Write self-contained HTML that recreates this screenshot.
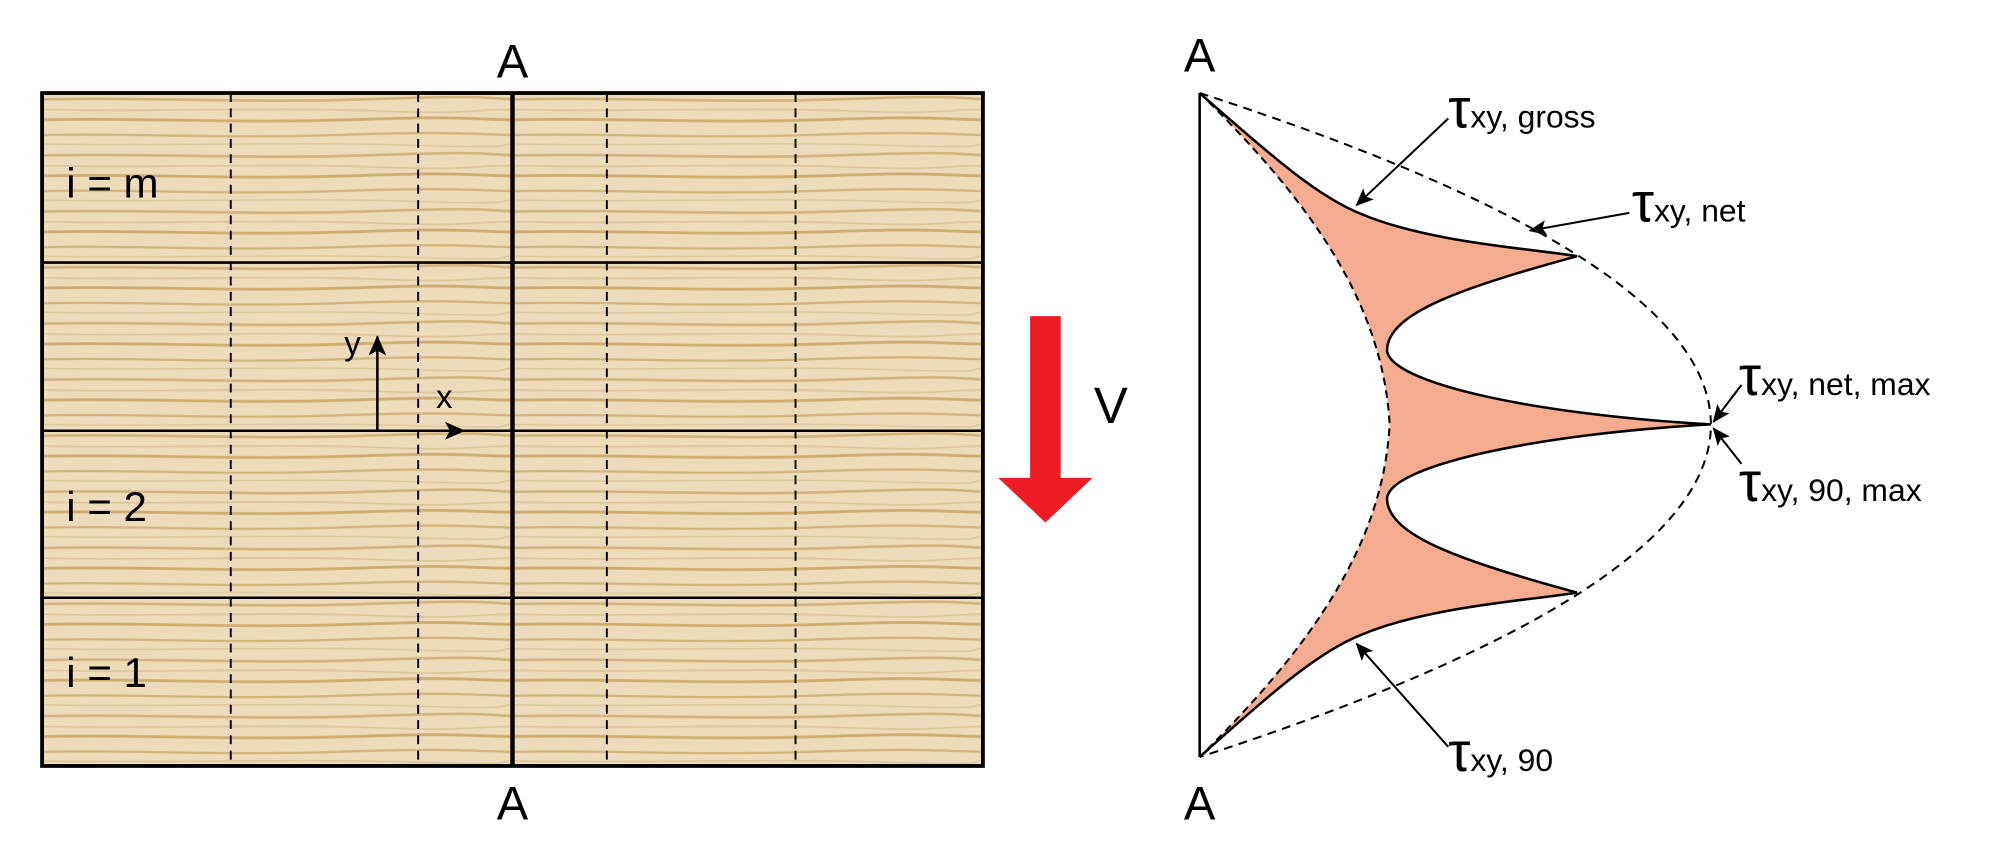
<!DOCTYPE html>
<html><head><meta charset="utf-8"><style>
html,body{margin:0;padding:0;background:#fff;}
svg{display:block;font-family:"Liberation Sans",sans-serif;}
</style></head><body>
<svg width="1999" height="859" viewBox="0 0 1568 674" preserveAspectRatio="none">
<defs>
<pattern id="wood" x="33" y="73" width="370" height="44" patternUnits="userSpaceOnUse">
<rect width="370" height="44" fill="#ecdcbb"/>
<path d="M0,5 C80,3 160,8 250,5 S340,3 370,5" stroke="#d2b47e" stroke-width="2" fill="none"/>
<path d="M0,13 C90,15 180,11 260,14 S330,13 370,13" stroke="#dcc59a" stroke-width="1.3" fill="none"/>
<path d="M0,21 C70,19 150,24 240,21 S320,20 370,21" stroke="#cfae72" stroke-width="2.2" fill="none"/>
<path d="M0,33 C60,31 140,36 230,33 S330,32 370,33" stroke="#d3b57e" stroke-width="1.8" fill="none"/>
<path d="M0,40 C90,42 190,38 290,41 S350,40 370,40" stroke="#ddc79e" stroke-width="1.2" fill="none"/>
</pattern>
<marker id="ah" markerWidth="14" markerHeight="12" refX="13" refY="6" orient="auto" markerUnits="userSpaceOnUse">
<path d="M0,0 L14,6 L0,12 L3,6 Z" fill="#000"/>
</marker>
<marker id="ah2" markerWidth="16" markerHeight="14" refX="15" refY="7" orient="auto" markerUnits="userSpaceOnUse">
<path d="M0,0 L16,7 L0,14 L4,7 Z" fill="#000"/>
</marker>
</defs>

<rect x="33" y="73" width="738" height="528" fill="url(#wood)"/>
<g stroke="#000" stroke-width="1.5" stroke-dasharray="7,5">
<line x1="181" y1="73" x2="181" y2="601"/>
<line x1="328" y1="73" x2="328" y2="601"/>
<line x1="476" y1="73" x2="476" y2="601"/>
<line x1="624" y1="73" x2="624" y2="601"/>
</g>
<g stroke="#000" stroke-width="2">
<line x1="33" y1="206" x2="771" y2="206"/>
<line x1="33" y1="338" x2="771" y2="338"/>
<line x1="33" y1="469" x2="771" y2="469"/>
</g>
<line x1="402" y1="73" x2="402" y2="601" stroke="#000" stroke-width="3.5"/>
<rect x="33" y="73" width="738" height="528" fill="none" stroke="#000" stroke-width="3"/>
<text x="402" y="61" font-size="37" text-anchor="middle">A</text>
<text x="402" y="643" font-size="37" text-anchor="middle">A</text>
<text x="52" y="155" font-size="33">i = m</text>
<text x="52" y="409" font-size="33">i = 2</text>
<text x="52" y="539" font-size="33">i = 1</text>
<line x1="296" y1="338" x2="296" y2="264" stroke="#000" stroke-width="2" marker-end="url(#ah2)"/>
<line x1="296" y1="338" x2="364" y2="338" stroke="#000" stroke-width="2" marker-end="url(#ah2)"/>
<text x="270" y="278" font-size="26">y</text>
<text x="342" y="320" font-size="26">x</text>
<polygon points="808,248 832,248 832,375 857,375 820,410 783,375 808,375" fill="#ed1c24"/>
<text x="858" y="332" font-size="40">V</text>

<line x1="941" y1="73" x2="941" y2="594" stroke="#000" stroke-width="2"/>
<text x="941" y="56" font-size="37" text-anchor="middle">A</text>
<text x="941" y="643" font-size="37" text-anchor="middle">A</text>

<path d="M941,73 C1000,125 1035,155 1068,168 C1120,190 1200,195 1237,201 C1150,225 1088,245 1088,275 C1090,300 1200,325 1342,333 C1200,341 1090,366 1088,391 C1088,421 1150,441 1237,465 C1200,471 1120,476 1068,498 C1035,511 1000,541 941,594 C1030,506 1085,426 1090,333 C1085,240 1030,160 941,73 Z" fill="#f5ab8f" stroke="none"/>
<path d="M941,73 C1030,160 1085,240 1090,333 C1085,426 1030,506 941,594" fill="none" stroke="#000" stroke-width="1.6" stroke-dasharray="6,4"/>
<path d="M941,73 Q1743,333 941,594" fill="none" stroke="#000" stroke-width="1.6" stroke-dasharray="7,5"/>
<path d="M941,73 C1000,125 1035,155 1068,168 C1120,190 1200,195 1237,201 C1150,225 1088,245 1088,275 C1090,300 1200,325 1342,333 C1200,341 1090,366 1088,391 C1088,421 1150,441 1237,465 C1200,471 1120,476 1068,498 C1035,511 1000,541 941,594" fill="none" stroke="#000" stroke-width="2"/>

<g stroke="#000" stroke-width="1.6" fill="none">
<line x1="1136" y1="93" x2="1064" y2="161" marker-end="url(#ah)"/>
<line x1="1278" y1="167" x2="1200" y2="181" marker-end="url(#ah)"/>
<line x1="1366" y1="302" x2="1344" y2="331" marker-end="url(#ah)"/>
<line x1="1366" y1="364" x2="1344" y2="336" marker-end="url(#ah)"/>
<line x1="1136" y1="586" x2="1064" y2="505" marker-end="url(#ah)"/>
</g>
<g font-size="44">
<text x="1136" y="100">τ<tspan font-size="25">xy, gross</tspan></text>
<text x="1280" y="174">τ<tspan font-size="25">xy, net</tspan></text>
<text x="1364" y="310">τ<tspan font-size="25">xy, net, max</tspan></text>
<text x="1364" y="393">τ<tspan font-size="25">xy, 90, max</tspan></text>
<text x="1136" y="605">τ<tspan font-size="25">xy, 90</tspan></text>
</g>
</svg>
</body></html>
